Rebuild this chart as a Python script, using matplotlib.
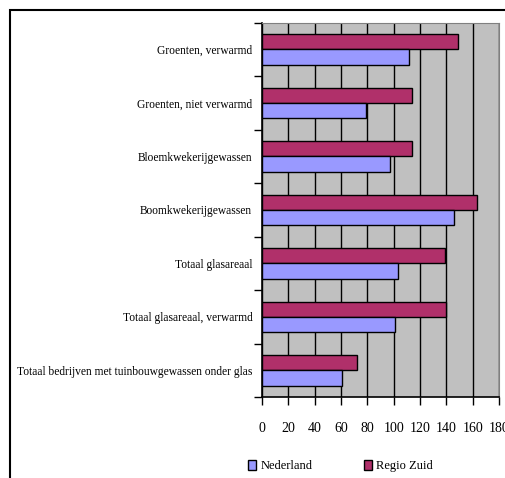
import matplotlib
matplotlib.use("Agg")
import matplotlib.pyplot as plt
from matplotlib.patches import Rectangle, Patch
import numpy as np

plt.rcParams['font.family'] = ['Liberation Serif', 'DejaVu Serif']

# categorieen van boven naar beneden
categorieen = [
    'Groenten, verwarmd',
    'Groenten, niet verwarmd',
    'Bloemkwekerijgewassen',
    'Boomkwekerijgewassen',
    'Totaal glasareaal',
    'Totaal glasareaal, verwarmd',
    'Totaal bedrijven met tuinbouwgewassen onder glas',
]
regio_zuid = [149, 114, 114, 163, 139, 140, 72]
nederland = [112, 79, 97, 146, 103, 101, 61]
x_ticks = [0, 20, 40, 60, 80, 100, 120, 140, 160, 180]

kleur_rz = '#B0306A'
kleur_nl = '#9999FF'

W, H = 505, 478
fig = plt.figure(figsize=(W / 100, H / 100), dpi=100)

# kader van de grafiek (loopt buiten het beeld door)
fig.patches.append(Rectangle((10 / W, -0.1), 1.2, 1 - 10 / H + 0.1,
                             transform=fig.transFigure, fill=False,
                             edgecolor='black', linewidth=1.5))

ax = fig.add_axes([262 / W, (H - 397) / H, (499 - 262) / W, (397 - 22.7) / H])
ax.set_facecolor('#C0C0C0')

y = np.arange(len(categorieen))
h = 0.285
ax.barh(y - h / 2, regio_zuid, height=h, color=kleur_rz, edgecolor='black', linewidth=1, zorder=3)
ax.barh(y + h / 2, nederland, height=h, color=kleur_nl, edgecolor='black', linewidth=1, zorder=3)

ax.set_xlim(0, 180)
ax.set_ylim(len(categorieen) - 0.5, -0.5)
ax.set_xticks(x_ticks)
ax.set_xticklabels([str(t) for t in x_ticks], fontsize=10)
ax.xaxis.grid(True, color='black', linewidth=1, zorder=1)
ax.tick_params(axis='x', direction='out', length=6, width=1, pad=12)

ax.set_yticks(y)
ax.set_yticklabels(categorieen, fontsize=8.3)
ax.tick_params(axis='y', which='major', length=0, pad=7)
ax.set_yticks(np.arange(len(categorieen) + 1) - 0.5, minor=True)
ax.tick_params(axis='y', which='minor', direction='out', length=6, width=1)

for s in ['top', 'right']:
    ax.spines[s].set_color('#808080')
for s in ['left', 'bottom']:
    ax.spines[s].set_color('black')
    ax.spines[s].set_linewidth(1.2)

handles = [Patch(facecolor=kleur_nl, edgecolor='black'),
           Patch(facecolor=kleur_rz, edgecolor='black')]
fig.legend(handles, ['Nederland', 'Regio Zuid'], loc='center left', ncol=2,
           bbox_to_anchor=(242 / W, (H - 466) / H), frameon=False,
           fontsize=9, handlelength=0.65, handleheight=0.9, borderpad=0,
           handletextpad=0.35, columnspacing=4.1)

fig.savefig('out.png', dpi=100)
